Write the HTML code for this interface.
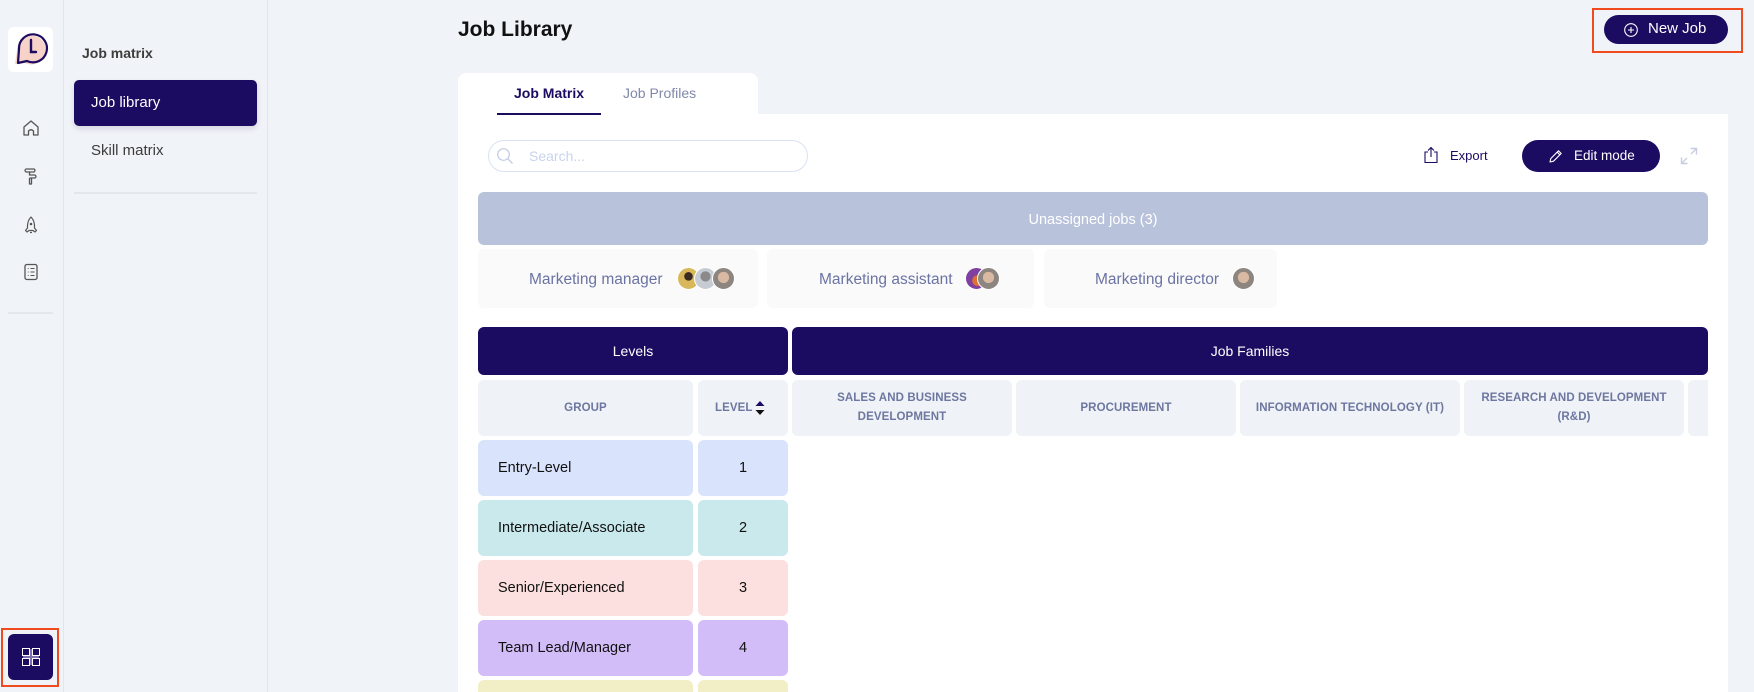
<!DOCTYPE html>
<html><head><meta charset="utf-8">
<style>
*{margin:0;padding:0;box-sizing:border-box}
html,body{width:1754px;height:692px;overflow:hidden;background:#f0f3f7;font-family:"Liberation Sans",sans-serif;position:relative}
.a{position:absolute}
.t{position:absolute;white-space:nowrap}
.hc{position:absolute;background:#eff2f6;border-radius:6px;color:#6d77a0;font-size:11.5px;font-weight:bold;text-align:center;display:flex;align-items:center;justify-content:center;line-height:19px;letter-spacing:0.1px}
.row{position:absolute;border-radius:6px;font-size:14.5px;color:#111;display:flex;align-items:center}
.card{position:absolute;background:#fafafa;border-radius:6px;top:249px;height:59px}
.jt{position:absolute;top:22px;font-size:15.5px;color:#6b73a3;white-space:nowrap}
.av{position:absolute;width:23px;height:23px;border-radius:50%;border:1.5px solid #fff;top:18px}
</style></head><body>

<!-- left narrow sidebar -->
<div class="a" style="left:63px;top:0;width:1px;height:692px;background:#e2e6eb"></div>
<div class="a" style="left:267px;top:0;width:1px;height:692px;background:#e2e6eb"></div>

<div class="a" style="left:8px;top:27px;width:45px;height:45px;background:#fff;border-radius:6px"></div>
<svg class="a" style="left:8px;top:27px" width="45" height="45" viewBox="0 0 45 45">
<path d="M7 37 L9 24 A14.5 14.5 0 1 1 17 36 Z" fill="#f6d2c9"/>
<path d="M10 36 L11 22 A14 14 0 1 1 19 34 Z" fill="none" stroke="#1b0b61" stroke-width="2.2" stroke-linejoin="round"/>
<path d="M23 13 V25 H28" fill="none" stroke="#1b0b61" stroke-width="2.4" stroke-linecap="round"/>
</svg>

<svg class="a" style="left:21px;top:118px" width="20" height="20" viewBox="0 0 20 20"><path d="M3 17 V9 L10 3 L17 9 V17 H12.5 V13 Q10 10.5 7.5 13 V17 Z" fill="none" stroke="#555" stroke-width="1.3" stroke-linejoin="round"/></svg>
<svg class="a" style="left:21px;top:166px" width="20" height="20" viewBox="0 0 20 20"><path d="M5 3 H13 Q15 4 13 6 H5 Q3 4.5 5 3Z M8.5 6 V9 H14 Q16 10.5 14 12 H8.5 M8.5 12 V18 H10.5 V12" fill="none" stroke="#555" stroke-width="1.3" stroke-linejoin="round"/></svg>
<svg class="a" style="left:21px;top:215px" width="20" height="20" viewBox="0 0 20 20"><path d="M10 2 Q14 6 13.5 13 L15.5 15.5 L14 17 L12 15.5 H8 L6 17 L4.5 15.5 L6.5 13 Q6 6 10 2Z" fill="none" stroke="#555" stroke-width="1.2" stroke-linejoin="round"/><circle cx="10" cy="9" r="1.3" fill="#555"/><path d="M9 17.5 H11" stroke="#555" stroke-width="1.2"/></svg>
<svg class="a" style="left:21px;top:262px" width="20" height="20" viewBox="0 0 20 20"><rect x="4" y="2.5" width="12" height="15" rx="1.8" fill="none" stroke="#555" stroke-width="1.3"/><path d="M6.8 6.5h.8M9.5 6.5h4M6.8 10h.8M9.5 10h4M6.8 13.5h.8M9.5 13.5h4" stroke="#555" stroke-width="1.1"/></svg>
<div class="a" style="left:8px;top:312px;width:45px;height:2px;background:#e3e6ea"></div>

<div class="a" style="left:1px;top:628px;width:58px;height:59px;border:2.5px solid #f04a1f"></div>
<div class="a" style="left:8px;top:634px;width:45px;height:46px;background:#1b0b61;border-radius:6px"></div>
<svg class="a" style="left:21px;top:647px" width="20" height="20" viewBox="0 0 20 20"><path d="M9 2 H11 V18 H9Z M2 9 H18 V11 H2Z" fill="#7d72b0"/><rect x="1.5" y="1.5" width="7" height="7" fill="none" stroke="#fff" stroke-width="1"/><rect x="11.5" y="1.5" width="7" height="7" fill="none" stroke="#fff" stroke-width="1"/><rect x="1.5" y="11.5" width="7" height="7" fill="none" stroke="#fff" stroke-width="1"/><rect x="11.5" y="11.5" width="7" height="7" fill="none" stroke="#fff" stroke-width="1"/></svg>

<!-- second sidebar -->
<div class="t" style="left:82px;top:45px;font-size:14px;font-weight:bold;color:#3d3d3d">Job matrix</div>
<div class="a" style="left:74px;top:80px;width:183px;height:46px;background:#1b0b61;border-radius:5px;box-shadow:0 3px 6px rgba(27,11,97,0.12)"></div>
<div class="t" style="left:91px;top:94px;font-size:15px;color:#fff">Job library</div>
<div class="t" style="left:91px;top:142px;font-size:15px;color:#3c3c3c">Skill matrix</div>
<div class="a" style="left:74px;top:192px;width:183px;height:1.5px;background:#e3e6ea"></div>

<!-- title -->
<div class="t" style="left:458px;top:18px;font-size:21px;font-weight:bold;color:#111">Job Library</div>

<!-- new job -->
<div class="a" style="left:1592px;top:8px;width:151px;height:45px;border:2.5px solid #f04a1f"></div>
<div class="a" style="left:1604px;top:15px;width:124px;height:29px;background:#1b0b61;border-radius:15px"></div>
<svg class="a" style="left:1623px;top:22px" width="16" height="16" viewBox="0 0 16 16"><circle cx="8" cy="8" r="6.3" fill="none" stroke="#fff" stroke-width="1.1"/><path d="M8 5v6M5 8h6" stroke="#fff" stroke-width="1.1"/></svg>
<div class="t" style="left:1648px;top:20px;font-size:15px;color:#fff">New Job</div>

<!-- main card -->
<div class="a" style="left:458px;top:73px;width:300px;height:50px;background:#fff;border-radius:8px 8px 0 0"></div>
<div class="a" style="left:458px;top:114px;width:1270px;height:578px;background:#fff"></div>
<div class="t" style="left:514px;top:85px;font-size:14px;font-weight:bold;color:#1b0b61">Job Matrix</div>
<div class="t" style="left:623px;top:85px;font-size:14px;color:#8088a8">Job Profiles</div>
<div class="a" style="left:497px;top:112.5px;width:104px;height:2px;background:#1b0b61"></div>

<!-- search -->
<div class="a" style="left:488px;top:140px;width:320px;height:32px;border:1px solid #d9e1f3;border-radius:16px"></div>
<svg class="a" style="left:496px;top:147px" width="19" height="19" viewBox="0 0 19 19"><circle cx="7.5" cy="7.5" r="5.8" fill="none" stroke="#c2cbe3" stroke-width="1.2"/><path d="M11.7 11.7 L16.5 16.5" stroke="#c2cbe3" stroke-width="1.3"/></svg>
<div class="t" style="left:529px;top:148px;font-size:14px;color:#c9d3ee">Search...</div>

<!-- export / edit -->
<svg class="a" style="left:1423px;top:146px" width="16" height="18" viewBox="0 0 16 18"><path d="M5 6 H2 V16.5 H14 V6 H11" fill="none" stroke="#1b0b61" stroke-width="1.1"/><path d="M8 11 V1.5 M5 4.5 L8 1.5 L11 4.5" fill="none" stroke="#1b0b61" stroke-width="1.1"/></svg>
<div class="t" style="left:1450px;top:148px;font-size:13px;color:#1b0b61">Export</div>
<div class="a" style="left:1522px;top:140px;width:138px;height:32px;background:#1b0b61;border-radius:16px"></div>
<svg class="a" style="left:1548px;top:148px" width="16" height="16" viewBox="0 0 16 16"><path d="M2 14 L2.8 10.5 L10.5 2.8 L13.2 5.5 L5.5 13.2 Z M9.2 4.1 L11.9 6.8" fill="none" stroke="#fff" stroke-width="1.1" stroke-linejoin="round"/></svg>
<div class="t" style="left:1574px;top:148px;font-size:13.5px;color:#fff">Edit mode</div>
<svg class="a" style="left:1679px;top:146px" width="20" height="20" viewBox="0 0 20 20"><path d="M11.5 2.5 H17.5 V8.5 M17.5 2.5 L12 8 M8.5 17.5 H2.5 V11.5 M2.5 17.5 L8 12" fill="none" stroke="#c6cde1" stroke-width="1.4"/></svg>

<!-- unassigned -->
<div class="a" style="left:478px;top:192px;width:1230px;height:53px;background:#b8c2da;border-radius:6px"></div>
<div class="t" style="left:478px;top:212px;width:1230px;text-align:center;font-size:14.5px;color:#fff">Unassigned jobs (3)</div>

<div class="card" style="left:478px;width:280px">
  <div class="jt" style="left:51px">Marketing manager</div>
  <div class="av" style="left:199px;background:radial-gradient(circle at 50% 40%,#3a2a20 25%,#d8b85a 27%)"></div>
  <div class="av" style="left:216px;background:radial-gradient(circle at 50% 40%,#8a8a8a 30%,#c7ccd4 32%)"></div>
  <div class="av" style="left:234px;background:radial-gradient(circle at 50% 45%,#d9b9a2 35%,#8d8580 37%)"></div>
</div>
<div class="card" style="left:767px;width:267px">
  <div class="jt" style="left:52px">Marketing assistant</div>
  <div class="av" style="left:198px;background:radial-gradient(circle at 55% 60%,#e07030 30%,#8040a0 32%)"></div>
  <div class="av" style="left:210px;background:radial-gradient(circle at 50% 45%,#d9b9a2 35%,#8d8580 37%)"></div>
</div>
<div class="card" style="left:1044px;width:233px">
  <div class="jt" style="left:51px">Marketing director</div>
  <div class="av" style="left:188px;background:radial-gradient(circle at 50% 45%,#d9b9a2 35%,#8d8580 37%)"></div>
</div>

<!-- matrix headers -->
<div class="a" style="left:478px;top:327px;width:310px;height:48px;background:#1b0b61;border-radius:6px;color:#fff;font-size:14px;text-align:center;line-height:48px">Levels</div>
<div class="a" style="left:792px;top:327px;width:916px;height:48px;background:#1b0b61;border-radius:6px;color:#fff;font-size:14px;text-align:center;line-height:48px">Job Families</div>

<div class="hc" style="left:478px;top:380px;width:215px;height:56px">GROUP</div>
<div class="hc" style="left:698px;top:380px;width:90px;height:56px;justify-content:flex-start;padding-left:17px">LEVEL</div>
<svg class="a" style="left:754px;top:398px" width="12" height="20" viewBox="0 0 12 20"><path d="M1.5 8 L6 3 L10.5 8Z" fill="#1b0b61"/><path d="M1.5 12 L6 17 L10.5 12Z" fill="#111"/></svg>
<div class="hc" style="left:792px;top:380px;width:220px;height:56px">SALES AND BUSINESS<br>DEVELOPMENT</div>
<div class="hc" style="left:1016px;top:380px;width:220px;height:56px">PROCUREMENT</div>
<div class="hc" style="left:1240px;top:380px;width:220px;height:56px">INFORMATION TECHNOLOGY (IT)</div>
<div class="hc" style="left:1464px;top:380px;width:220px;height:56px">RESEARCH AND DEVELOPMENT<br>(R&amp;D)</div>
<div class="a" style="left:1688px;top:380px;width:20px;height:56px;background:#eff2f6;border-radius:6px 0 0 6px"></div>

<!-- rows -->
<div class="row" style="left:478px;top:440px;width:215px;height:56px;background:#d9e3fb;padding-left:20px">Entry-Level</div>
<div class="row" style="left:698px;top:440px;width:90px;height:56px;background:#d9e3fb;justify-content:center">1</div>
<div class="row" style="left:478px;top:500px;width:215px;height:56px;background:#c9e9ec;padding-left:20px">Intermediate/Associate</div>
<div class="row" style="left:698px;top:500px;width:90px;height:56px;background:#c9e9ec;justify-content:center">2</div>
<div class="row" style="left:478px;top:560px;width:215px;height:56px;background:#fbe0df;padding-left:20px">Senior/Experienced</div>
<div class="row" style="left:698px;top:560px;width:90px;height:56px;background:#fbe0df;justify-content:center">3</div>
<div class="row" style="left:478px;top:620px;width:215px;height:56px;background:#d3bdf8;padding-left:20px">Team Lead/Manager</div>
<div class="row" style="left:698px;top:620px;width:90px;height:56px;background:#d3bdf8;justify-content:center">4</div>
<div class="a" style="left:478px;top:680px;width:215px;height:12px;background:#f2efc7;border-radius:6px 6px 0 0"></div>
<div class="a" style="left:698px;top:680px;width:90px;height:12px;background:#f2efc7;border-radius:6px 6px 0 0"></div>

</body></html>
